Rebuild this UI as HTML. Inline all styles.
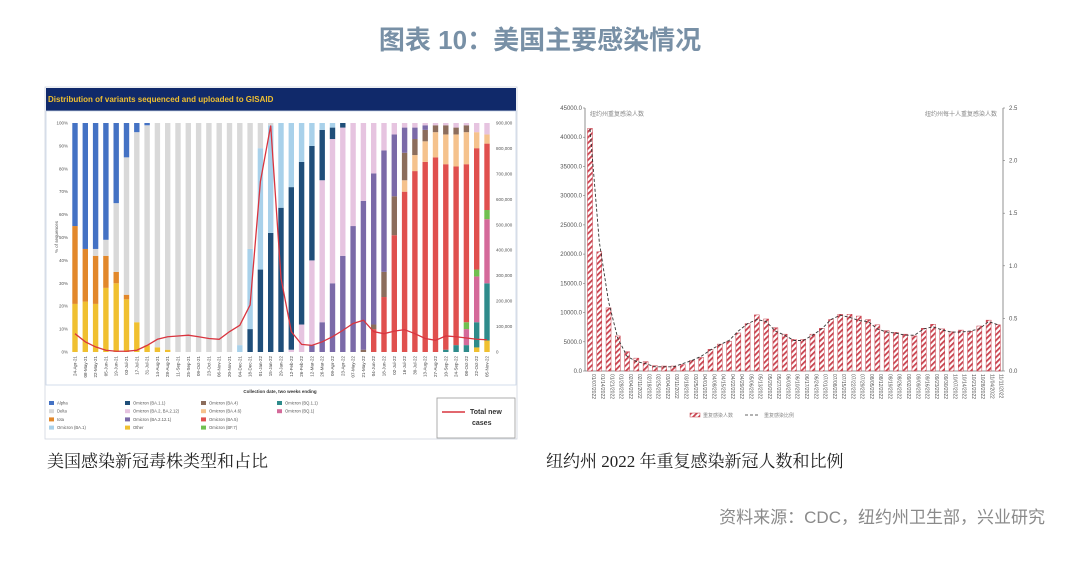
<!DOCTYPE html>
<html><head><meta charset="utf-8"><style>
html,body{margin:0;padding:0;background:#fff;}
svg{display:block;font-family:"Liberation Sans","Noto Sans CJK SC",sans-serif;}
</style></head><body>
<svg id="s" width="1080" height="581" viewBox="0 0 1080 581" xmlns="http://www.w3.org/2000/svg">
<defs>
<pattern id="hatch" patternUnits="userSpaceOnUse" width="4" height="4" patternTransform="rotate(45)">
<rect width="4" height="4" fill="#fff"/><rect width="1.8" height="4" fill="#c8424e"/>
</pattern>
</defs>
<text x="540" y="49" text-anchor="middle" font-size="26" font-weight="bold" fill="#7890a6">图表 10：美国主要感染情况</text>
<g id="left">
<rect x="45" y="87" width="472" height="352" fill="#fff" stroke="#d0d6e0" stroke-width="0.8"/>
<rect x="46" y="88" width="470" height="23" fill="#10296a"/>
<text x="48" y="102" font-size="8" font-weight="bold" fill="#f0c030">Distribution of variants sequenced and uploaded to GISAID</text>
<rect x="46" y="111" width="470" height="274" fill="#fff" stroke="#c9d4e6" stroke-width="0.8"/>
</g>
<g id="right"></g>
<text x="47" y="467" font-size="17" fill="#222" font-family="'Liberation Serif','Noto Serif CJK SC',serif">美国感染新冠毒株类型和占比</text>
<text x="546" y="467" font-size="17" fill="#222" font-family="'Liberation Serif','Noto Serif CJK SC',serif">纽约州 2022 年重复感染新冠人数和比例</text>
<text x="1045" y="523" text-anchor="end" font-size="17" fill="#8a8a8a">资料来源：CDC，纽约州卫生部，兴业研究</text>
</svg>
<script>
// ---- Left chart data ----
const dates = ["24-Apr-21","08-May-21","22-May-21","05-Jun-21","19-Jun-21","03-Jul-21","17-Jul-21","31-Jul-21","14-Aug-21","28-Aug-21","11-Sep-21","25-Sep-21","09-Oct-21","23-Oct-21","06-Nov-21","20-Nov-21","04-Dec-21","18-Dec-21","01-Jan-22","15-Jan-22","29-Jan-22","12-Feb-22","26-Feb-22","12-Mar-22","26-Mar-22","09-Apr-22","23-Apr-22","07-May-22","21-May-22","04-Jun-22","18-Jun-22","02-Jul-22","16-Jul-22","30-Jul-22","13-Aug-22","27-Aug-22","10-Sep-22","24-Sep-22","08-Oct-22","22-Oct-22","05-Nov-22"];
const variantNames = ["Other","Iota","BQ.1.1","BQ.1","BF.7","BA.5","BA.4.6","BA.4","BA.2.12.1","BA.2","BA.1.1","BA.1","Delta","Alpha"];
const variantColors = ["#f0c030","#e2882b","#2e8b8b","#d46a9a","#70c050","#e0504e","#f5c28d","#8c6d5c","#7b6aa8","#e6c4e0","#1f4e79","#a9d1ea","#d9d9d9","#4472c4"];
const sOther  = [21,22,21,28,30,23,13,3,2,1,0,0,0,0,0,0,0,0,0,0,0,0,0,0,0,0,0,0,0,0,0,0,0,0,0,0,0,0,0,2,5];
const sIota   = [34,23,21,14,5,2,0,0,0,0,0,0,0,0,0,0,0,0,0,0,0,0,0,0,0,0,0,0,0,0,0,0,0,0,0,0,0,0,0,0,0];
const sBQ11   = [0,0,0,0,0,0,0,0,0,0,0,0,0,0,0,0,0,0,0,0,0,0,0,0,0,0,0,0,0,0,0,0,0,0,0,0,1,3,3,11,25];
const sBQ1    = [0,0,0,0,0,0,0,0,0,0,0,0,0,0,0,0,0,0,0,0,0,0,0,0,0,0,0,0,0,0,0,0,0,0,0,0,0,0,7,20,28];
const sBF7    = [0,0,0,0,0,0,0,0,0,0,0,0,0,0,0,0,0,0,0,0,0,0,0,0,0,0,0,0,0,0,0,0,0,0,0,0,0,0,3,3,4];
const sBA5    = [0,0,0,0,0,0,0,0,0,0,0,0,0,0,0,0,0,0,0,0,0,0,0,0,0,0,0,0,0,10,24,51,70,79,83,85,81,78,69,53,29];
const sBA46   = [0,0,0,0,0,0,0,0,0,0,0,0,0,0,0,0,0,0,0,0,0,0,0,0,0,0,0,0,0,0,0,0,5,7,9,11,13,14,14,7,4];
const sBA4    = [0,0,0,0,0,0,0,0,0,0,0,0,0,0,0,0,0,0,0,0,0,0,0,0,0,0,0,0,1,2,11,17,12,7,5,3,4,3,3,0,0];
const sBA2121 = [0,0,0,0,0,0,0,0,0,0,0,0,0,0,0,0,0,0,0,0,0,0,0,3,13,30,42,55,65,66,53,27,11,5,2,0,0,0,0,0,0];
const sBA2    = [0,0,0,0,0,0,0,0,0,0,0,0,0,0,0,0,0,0,0,0,0,1,12,37,62,63,56,45,34,22,12,5,2,2,1,1,1,2,1,4,5];
const sBA11   = [0,0,0,0,0,0,0,0,0,0,0,0,0,0,0,0,0,10,36,52,63,71,71,50,22,5,2,0,0,0,0,0,0,0,0,0,0,0,0,0,0];
const sBA1    = [0,0,0,0,0,0,0,0,0,0,0,0,0,0,0,0,3,35,53,47,37,28,17,10,3,2,0,0,0,0,0,0,0,0,0,0,0,0,0,0,0];
const sDelta  = [0,0,3,7,30,60,83,96,98,99,100,100,100,100,100,100,97,55,11,1,0,0,0,0,0,0,0,0,0,0,0,0,0,0,0,0,0,0,0,0,0];
const sAlpha  = [45,55,55,51,35,15,4,1,0,0,0,0,0,0,0,0,0,0,0,0,0,0,0,0,0,0,0,0,0,0,0,0,0,0,0,0,0,0,0,0,0];
const totalCases = [72000,40000,20000,7000,3000,3000,7000,26000,50000,60000,63000,66000,60000,53000,50000,80000,105000,185000,670000,890000,290000,80000,30000,26000,40000,60000,85000,112000,125000,80000,72000,82000,88000,72000,53000,46000,63000,60000,55000,50000,48000];
const pctTicks = ["0%","10%","20%","30%","40%","50%","60%","70%","80%","90%","100%"];
const caseTicks = ["0","100,000","200,000","300,000","400,000","500,000","600,000","700,000","800,000","900,000"];
const legendLabels = ["Alpha","Delta","Iota","Omicron (BA.1)","Omicron (BA.1.1)","Omicron (BA.2, BA.2.12)","Omicron (BA.2.12.1)","Other","Omicron (BA.4)","Omicron (BA.4.6)","Omicron (BA.5)","Omicron (BF.7)","Omicron (BQ.1.1)","Omicron (BQ.1)"];
const legendColors = ["#4472c4","#d9d9d9","#e2882b","#a9d1ea","#1f4e79","#e6c4e0","#7b6aa8","#f0c030","#8c6d5c","#f5c28d","#e0504e","#70c050","#2e8b8b","#d46a9a"];

// ---- Right chart data ----
const nyCounts = [41500,20400,10800,6000,3300,2200,1600,900,850,850,1100,1800,2300,3700,4600,5100,6500,8100,9600,8900,7400,6300,5400,5400,6300,7300,8800,9700,9700,9400,8800,7900,6900,6600,6300,6000,7300,8000,7200,6700,7000,6800,7700,8700,7900];
const nyRatio = [2.3,1.23,0.66,0.31,0.14,0.09,0.07,0.04,0.04,0.04,0.07,0.10,0.14,0.20,0.25,0.29,0.38,0.45,0.49,0.47,0.38,0.34,0.29,0.29,0.34,0.40,0.49,0.53,0.51,0.48,0.47,0.40,0.37,0.36,0.34,0.34,0.40,0.42,0.39,0.37,0.37,0.38,0.40,0.47,0.44];
const leftTicks = ["0.0","5000.0","10000.0","15000.0","20000.0","25000.0","30000.0","35000.0","40000.0","45000.0"];
const rightTicks = ["0.0","0.5","1.0","1.5","2.0","2.5"];
const nyDates = ["01/07/2022","01/14/2022","01/21/2022","01/28/2022","02/04/2022","02/11/2022","02/18/2022","02/25/2022","03/04/2022","03/11/2022","03/18/2022","03/25/2022","04/01/2022","04/08/2022","04/15/2022","04/22/2022","04/29/2022","05/06/2022","05/13/2022","05/20/2022","05/27/2022","06/03/2022","06/10/2022","06/17/2022","06/24/2022","07/01/2022","07/08/2022","07/15/2022","07/22/2022","07/29/2022","08/05/2022","08/12/2022","08/19/2022","08/26/2022","09/02/2022","09/09/2022","09/16/2022","09/23/2022","09/30/2022","10/07/2022","10/14/2022","10/21/2022","10/28/2022","11/04/2022","11/11/2022"];

const NS="http://www.w3.org/2000/svg";
function mk(tag, attrs, parent, txt){const e=document.createElementNS(NS,tag);for(const k in attrs)e.setAttribute(k,attrs[k]);if(txt!==undefined)e.textContent=txt;parent.appendChild(e);return e;}

// ===== Left chart =====
const L=document.getElementById('left');
const lx0=75, lstep=10.3, lbw=5.4, ly0=352, ly1=123;
const lxs=i=>lx0+i*lstep;
const lys=p=>ly0-(ly0-ly1)*p/100;
const lyc=v=>ly0-(ly0-ly1)*v/900000;
const series=[sOther,sIota,sBQ11,sBQ1,sBF7,sBA5,sBA46,sBA4,sBA2121,sBA2,sBA11,sBA1,sDelta,sAlpha];
pctTicks.forEach((t,k)=>{
  const tl=mk('text',{x:68,y:lys(k*10)+1.5,'text-anchor':'end','font-size':4.5,fill:'#555'},L,t);
  
  
});
caseTicks.forEach((t,k)=>{
  const tl=mk('text',{x:496,y:lyc(k*100000)+1.5,'font-size':4.5,fill:'#555'},L,t);
  
  
});
const yt=mk('text',{x:58,y:237,'font-size':4.5,fill:'#555',transform:'rotate(-90 58 237)','text-anchor':'middle'},L,'% of sequences');


dates.forEach((d,i)=>{
  let acc=0;
  const total=series.reduce((s,a)=>s+a[i],0);
  series.forEach((arr,j)=>{
    const v=arr[i]*100/total;
    if(v<=0)return;
    const r=mk('rect',{x:lxs(i)-lbw/2,y:lys(acc+v),width:lbw,height:lys(acc)-lys(acc+v),fill:variantColors[j]},L);
    
    
    acc+=v;
  });
  const tx=mk('text',{x:lxs(i)+1.5,y:356,'font-size':4.5,fill:'#444','text-anchor':'end',transform:`rotate(-90 ${lxs(i)+1.5} 356)`},L,d);
  
  
});
const lp=mk('polyline',{points:totalCases.map((v,i)=>lxs(i)+','+lyc(v)).join(' '),fill:'none',stroke:'#d9353f','stroke-width':1.3},L);


const xt=mk('text',{x:280,y:393,'font-size':4.5,'font-weight':'bold','text-anchor':'middle',fill:'#333'},L,'Collection date, two weeks ending');


legendLabels.forEach((lab,k)=>{
  const col=Math.floor(k/4), row=k%4;
  const gx=49+col*76, gy=404+row*8.2;
  const sw=mk('rect',{x:gx,y:gy-3,width:5,height:4,fill:legendColors[k]},L);
  
  
  const lt=mk('text',{x:gx+8,y:gy+0.5,'font-size':4.2,fill:'#555'},L,lab);
  
  
});
const lb=mk('rect',{x:437,y:398,width:78,height:40,fill:'#fff',stroke:'#999','stroke-width':0.8},L);


const ll=mk('line',{x1:442,y1:412,x2:465,y2:412,stroke:'#d9353f','stroke-width':1.6},L);


const lt1=mk('text',{x:470,y:414,'font-size':7,'font-weight':'bold',fill:'#333'},L,'Total new');


const lt2=mk('text',{x:472,y:425,'font-size':7,'font-weight':'bold',fill:'#333'},L,'cases');



// ===== Right chart =====
const R=document.getElementById('right');
const rx0=590, rstep=9.27, rbw=5, ry0=371, ry1=108, axL=585, axR=1003;
const rxs=i=>rx0+i*rstep;
const rys=v=>ry0-(ry0-ry1)*v/45000;
const ryr=v=>ry0-(ry0-ry1)*v/2.5;
const ax1=mk('line',{x1:axL,y1:ry1,x2:axL,y2:ry0,stroke:'#777','stroke-width':0.8},R);


const ax2=mk('line',{x1:axR,y1:ry1,x2:axR,y2:ry0,stroke:'#777','stroke-width':0.8},R);


const ax3=mk('line',{x1:axL,y1:ry0,x2:axR,y2:ry0,stroke:'#777','stroke-width':0.8},R);


leftTicks.forEach((t,k)=>{
  const y=rys(k*5000);
  mk('line',{x1:axL-2,y1:y,x2:axL,y2:y,stroke:'#777','stroke-width':0.6},R);
  const tl=mk('text',{x:axL-3,y:y+2,'font-size':6,'text-anchor':'end',fill:'#555'},R,t);
  
  
});
rightTicks.forEach((t,k)=>{
  const y=ryr(k*0.5);
  mk('line',{x1:axR,y1:y,x2:axR+2,y2:y,stroke:'#777','stroke-width':0.6},R);
  const tl=mk('text',{x:axR+6,y:y+2,'font-size':6,fill:'#555'},R,t);
  
  
});
nyCounts.forEach((v,i)=>{
  const r=mk('rect',{x:rxs(i)-rbw/2,y:rys(v),width:rbw,height:ry0-rys(v),fill:'url(#hatch)',stroke:'#c8424e','stroke-width':0.5},R);
  
  
  const tx=mk('text',{x:rxs(i)+1.8,y:374,'font-size':5,fill:'#555',transform:`rotate(90 ${rxs(i)+1.8} 374)`},R,nyDates[i]);
  
  
});
const rl=mk('polyline',{points:nyRatio.map((v,i)=>rxs(i)+','+ryr(v)).join(' '),fill:'none',stroke:'#333','stroke-width':0.9,'stroke-dasharray':'3 2'},R);


const a1=mk('text',{x:590,y:116,'font-size':6,fill:'#888'},R,'纽约州重复感染人数');


const a2=mk('text',{x:997,y:116,'font-size':6,fill:'#888','text-anchor':'end'},R,'纽约州每十人重复感染人数');


const lg1=mk('rect',{x:690,y:413,width:10,height:4,fill:'url(#hatch)',stroke:'#c8424e','stroke-width':0.5},R);


const lg2=mk('text',{x:703,y:417,'font-size':5,fill:'#888'},R,'重复感染人数');


const lg3=mk('line',{x1:745,y1:415,x2:760,y2:415,stroke:'#333','stroke-width':0.8,'stroke-dasharray':'3 2'},R);


const lg4=mk('text',{x:764,y:417,'font-size':5,fill:'#888'},R,'重复感染比例');


</script>
</body></html>
